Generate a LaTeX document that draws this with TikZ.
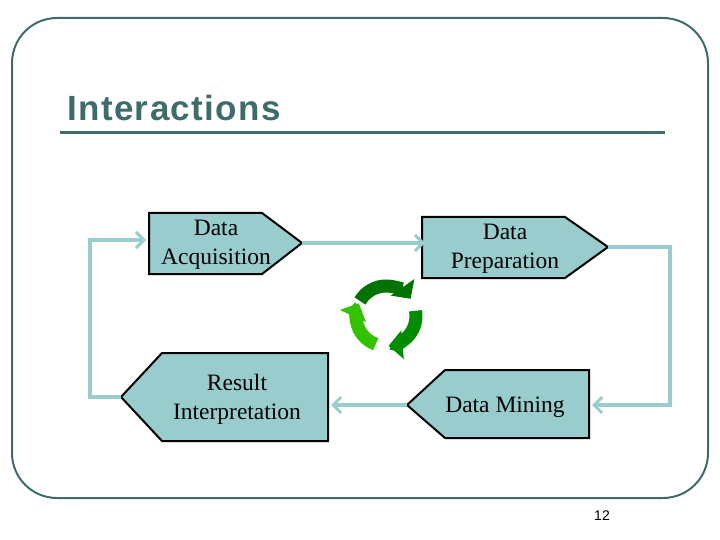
\documentclass[tikz,border=0pt]{standalone}
\usepackage{fontspec}
\setmainfont{Liberation Serif}
\newfontfamily\sansf{Liberation Sans}
\usetikzlibrary{arrows.meta}
\definecolor{teal1}{HTML}{99CCCC}
\definecolor{frame}{HTML}{3F6B6B}
\begin{document}
\begin{tikzpicture}[x=1pt,y=-1pt,
  box/.style={fill=teal1,draw=black,line width=2pt,line join=miter},
  lbl/.style={font=\fontsize{23.5}{29}\selectfont,align=center,inner sep=0pt},
  flow/.style={draw=teal1,line width=3.5pt,-{Straight Barb[length=8pt,width=16pt,line width=3pt]}},
  rec/.style={line width=13pt,-{Triangle[length=14pt,width=28pt]}}]
\useasboundingbox (0,0) rectangle (720,540);
\draw[frame,line width=2pt,rounded corners=45pt] (12,18) rectangle (708,498);
\node[anchor=west,inner sep=0pt,font=\sansf\bfseries\fontsize{35}{38}\selectfont,text=frame] (title) at (67,108) {\addfontfeature{LetterSpace=4}Interactions};
\draw[frame,line width=3pt] (60,133) -- (665,133);
\node[anchor=center,inner sep=0pt,font=\sansf\fontsize{14}{16}\selectfont] (pg) at (602,516) {12};
% boxes
\draw[box] (149,213) -- (262,213) -- (302,243) -- (262,274) -- (149,274) -- cycle;
\draw[box] (422,217) -- (565,217) -- (608,247) -- (565,278) -- (422,278) -- cycle;
\draw[box] (589,370) -- (445,370) -- (407,405) -- (445,438) -- (589,438) -- cycle;
\draw[box] (328,353) -- (162,353) -- (121,397) -- (162,441) -- (328,441) -- cycle;
\node[lbl] (da) at (216,245) {Data\\Acquisition};
\node[lbl] (dp) at (505,249) {Data\\Preparation};
\node[lbl] (dm) at (505,407) {Data Mining};
\node[lbl] (ri) at (237,399) {Result\\Interpretation};
\coordinate (daT) at (302,243); \coordinate (dpI) at (425,243);
\coordinate (dpT) at (608,247); \coordinate (c1) at (670,247); \coordinate (c2) at (670,405); \coordinate (dmI) at (592,405);
\coordinate (dmT) at (407,405); \coordinate (riI) at (331,405);
\coordinate (riT) at (121,397); \coordinate (c3) at (90,397); \coordinate (c4) at (90,240); \coordinate (daI) at (146,240);
\draw[flow] (daT) -- (dpI);
\draw[flow] (dpT) -- (c1) -- (c2) -- (dmI);
\draw[flow] (dmT) -- (riI);
\draw[flow] (riT) -- (c3) -- (c4) -- (daI);
% recycle symbol
\coordinate (rc) at (386,316);
\draw[rec,color=green!45!black] ([shift={(-150:30)}]rc) arc[start angle=-150,end angle=-35,radius=30];
\draw[rec,color=green!55!black] ([shift={(-10:30)}]rc) arc[start angle=-10,end angle=85,radius=30];
\draw[rec,color=green!70!black!80!yellow] ([shift={(110:30)}]rc) arc[start angle=110,end angle=205,radius=30];
\end{tikzpicture}
\end{document}
